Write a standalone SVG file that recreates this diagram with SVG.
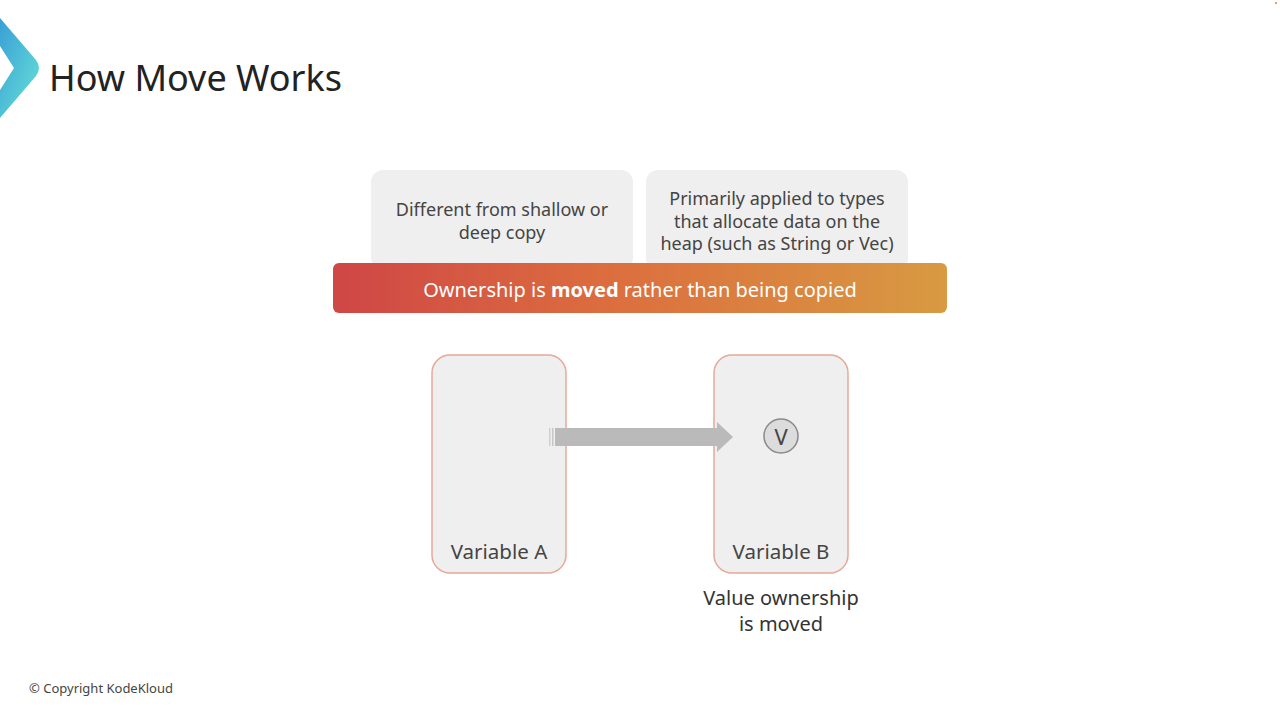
<svg xmlns="http://www.w3.org/2000/svg" width="1280" height="720" viewBox="0 0 1280 720">
<style>
text{font-family:"Noto Sans","Open Sans","Liberation Sans",sans-serif;}
.note{fill:#efefef;}
.nt{font-size:18px;fill:#444;text-anchor:middle;dominant-baseline:central;}
.var{fill:#efefef;stroke:#e6a898;stroke-width:1.5;}
.vl{font-size:20.5px;fill:#444;text-anchor:middle;dominant-baseline:central;}
</style>
<defs>
<linearGradient id="logo" x1="0" y1="0" x2="1" y2="1">
<stop offset="0" stop-color="#3a9fd6"/>
<stop offset="1" stop-color="#66e3d6"/>
</linearGradient>
<linearGradient id="bar" x1="0" y1="0" x2="1" y2="0">
<stop offset="0" stop-color="#cf4646"/>
<stop offset="0.45" stop-color="#dc6e3e"/>
<stop offset="1" stop-color="#d89a42"/>
</linearGradient>
</defs>
<rect width="1280" height="720" fill="#ffffff"/>
<g id="header">
<path d="M0,18 L36,60 Q42,68 36,76 L0,118 L0,90 L14,68 L0,46 Z" fill="url(#logo)"/>
<text x="49" y="77" font-size="36" fill="#222" dominant-baseline="central">How Move Works</text>
</g>
<g id="note1">
<rect class="note" x="371" y="170" width="262" height="100" rx="12"/>
<text class="nt" x="502" y="209">Different from shallow or</text>
<text class="nt" x="502" y="232">deep copy</text>
</g>
<g id="note2">
<rect class="note" x="646" y="170" width="262" height="100" rx="12"/>
<text class="nt" x="777" y="198">Primarily applied to types</text>
<text class="nt" x="777" y="221">that allocate data on the</text>
<text class="nt" x="777" y="243">heap (such as String or Vec)</text>
</g>
<g id="banner">
<rect x="333" y="263" width="614" height="50" rx="6" fill="url(#bar)"/>
<text x="640" y="289" font-size="20" fill="#fff" text-anchor="middle" dominant-baseline="central">Ownership is <tspan font-weight="bold">moved</tspan> rather than being copied</text>
</g>
<g id="varA">
<rect class="var" x="432" y="355" width="134" height="218" rx="18"/>
<text class="vl" x="499" y="551">Variable A</text>
</g>
<g id="varB">
<rect class="var" x="714" y="355" width="134" height="218" rx="18"/>
<text class="vl" x="781" y="551">Variable B</text>
<circle cx="781" cy="436" r="17" fill="#dcdcdc" stroke="#8a8a8a" stroke-width="1.5"/>
<text x="781" y="436" font-size="22" fill="#444" text-anchor="middle" dominant-baseline="central">V</text>
</g>
<g id="connectors">
<rect x="549" y="428" width="1.5" height="18" fill="#cfcfcf"/>
<rect x="552" y="428" width="1.5" height="18" fill="#c6c6c6"/>
<rect x="555" y="428" width="163" height="18" fill="#bababa"/>
<polygon points="717,422 733,437 717,452" fill="#bababa"/>
</g>
<g id="caption">
<text x="781" y="597" font-size="20" fill="#333" text-anchor="middle" dominant-baseline="central">Value ownership</text>
<text x="781" y="623" font-size="20" fill="#333" text-anchor="middle" dominant-baseline="central">is moved</text>
</g>
<text x="29" y="688" font-size="13" fill="#444" dominant-baseline="central">© Copyright KodeKloud</text>
<circle cx="1276" cy="3" r="1.2" fill="#e8a070"/>
</svg>
